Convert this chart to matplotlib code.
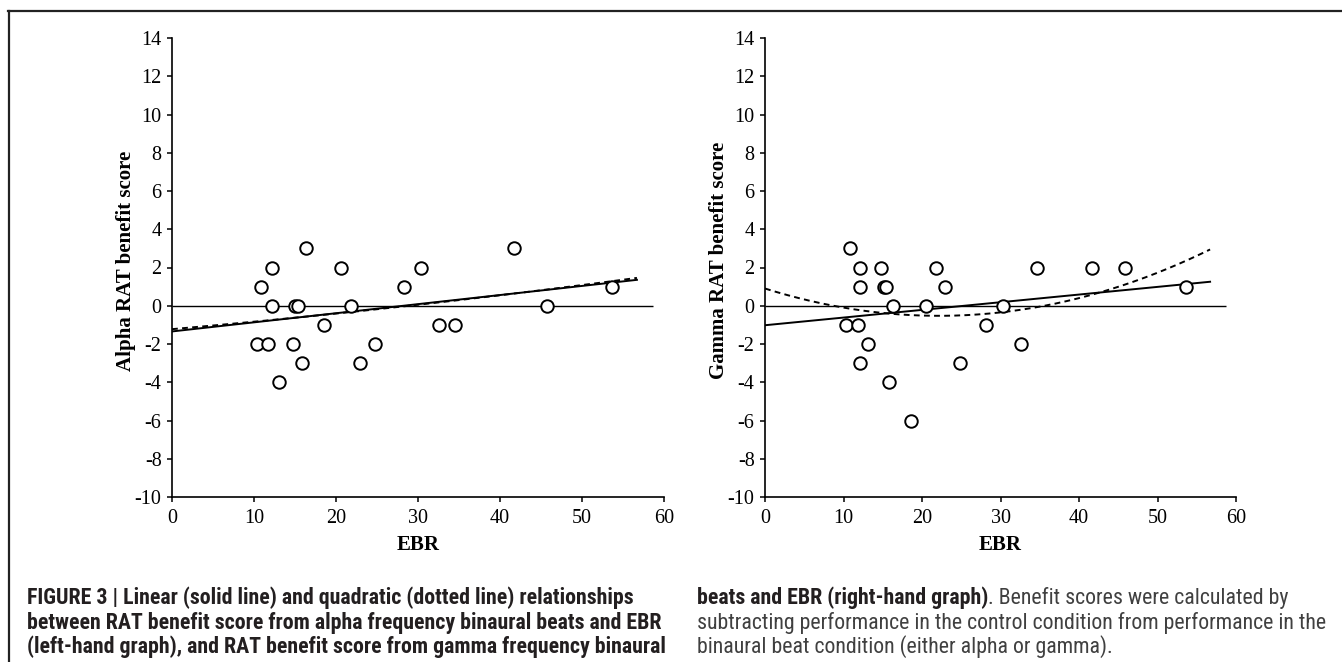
import numpy as np
import matplotlib
matplotlib.use("Agg")
import matplotlib.pyplot as plt
from matplotlib.lines import Line2D
from matplotlib.text import Annotation

plt.rcParams['axes.unicode_minus'] = False

# ---------------- data ----------------
alpha_ebr = [16.3, 41.7, 12.2, 20.55, 30.4, 10.87, 28.25, 53.6, 12.17, 15.06, 15.34,
             21.8, 45.75, 18.56, 32.6, 34.55, 10.34, 11.76, 14.8, 24.8, 15.8, 22.9, 13.1]
alpha_benefit = [3, 3, 2, 2, 2, 1, 1, 1, 0, 0, 0,
                 0, 0, -1, -1, -1, -2, -2, -2, -2, -3, -3, -4]

gamma_ebr = [10.8, 12.04, 14.77, 21.8, 34.6, 41.7, 45.8, 12.04, 15.1, 15.36, 22.9, 53.66,
             16.3, 20.55, 30.3, 10.3, 11.8, 28.2, 13.1, 32.6, 12.1, 24.8, 15.8, 18.55]
gamma_benefit = [3, 2, 2, 2, 2, 2, 2, 1, 1, 1, 1, 1,
                 0, 0, 0, -1, -1, -1, -2, -2, -3, -3, -4, -6]

x_ticks = [0, 10, 20, 30, 40, 50, 60]
y_ticks = [-10, -8, -6, -4, -2, 0, 2, 4, 6, 8, 10, 12, 14]
trend_range = (0, 56.7)      # extent of the Excel-style trendlines
zero_line_end = 58.7

panels = [
    ("Alpha RAT benefit score", alpha_ebr, alpha_benefit),
    ("Gamma RAT benefit score", gamma_ebr, gamma_benefit),
]

# ---------------- figure ----------------
W, H = 1342, 662
fig = plt.figure(figsize=(W / 100, H / 100), dpi=100)
fig.patch.set_facecolor("white")

def fx(px):
    return px / W

def fy(py):
    return 1 - py / H

axes_px = [(172, 664), (765, 1236)]
top_px, bot_px = 38, 497
serif = "Liberation Serif"

for (ylabel, xs, ys), (l, r) in zip(panels, axes_px):
    ax = fig.add_axes([fx(l), fy(bot_px), fx(r - l), (bot_px - top_px) / H])
    ax.set_xlim(0, 60)
    ax.set_ylim(-10, 14)
    for s in ("top", "right"):
        ax.spines[s].set_visible(False)
    for s in ("left", "bottom"):
        ax.spines[s].set_linewidth(1.2)
    ax.set_xticks(x_ticks)
    ax.set_yticks(y_ticks)
    ax.tick_params(direction="out", length=3.5, width=1.1, labelsize=14.5)
    ax.tick_params(axis="x", pad=5)
    ax.tick_params(axis="y", pad=4)
    for lab in ax.get_xticklabels() + ax.get_yticklabels():
        lab.set_fontfamily(serif)
    ax.set_xlabel("EBR", fontfamily=serif, fontweight="bold", fontsize=15, labelpad=5)
    ax.set_ylabel(ylabel, fontfamily=serif, fontweight="bold", fontsize=15)
    ax.yaxis.set_label_coords(-36.0 / (r - l), 0.515)

    xa = np.asarray(xs, float)
    ya = np.asarray(ys, float)
    xx = np.linspace(trend_range[0], trend_range[1], 200)
    lin = np.polyfit(xa, ya, 1)
    quad = np.polyfit(xa, ya, 2)
    ax.hlines(0, 0, zero_line_end, colors="black", linewidth=1.0, zorder=2)
    ax.plot(xx, np.polyval(lin, xx), color="black", linewidth=1.4, zorder=3)
    ax.plot(xx, np.polyval(quad, xx), color="black", linewidth=1.4,
            linestyle=(0, (3, 2.2)), zorder=3)
    ax.plot(xa, ya, linestyle="none", marker="o", markersize=9,
            markerfacecolor="white", markeredgecolor="black",
            markeredgewidth=1.4, zorder=4, clip_on=False)

# frame lines (top and left)
fig.add_artist(Line2D([fx(8), 1], [fy(11), fy(11)], color="#222222", linewidth=1.6))
fig.add_artist(Line2D([fx(9), fx(9)], [fy(11), 0], color="#222222", linewidth=1.6))

# ---------------- caption ----------------
cap_font = ["Roboto Condensed", "Liberation Sans Narrow", "Liberation Sans"]
bold_col = "#231f20"
reg_col = "#404040"
base = [604, 629, 653]

left_lines = [
    "FIGURE 3 | Linear (solid line) and quadratic (dotted line) relationships",
    "between RAT benefit score from alpha frequency binaural beats and EBR",
    "(left-hand graph), and RAT benefit score from gamma frequency binaural",
]

# choose the caption size so that the longest left line fills its column
renderer = fig.canvas.get_renderer()
probe = fig.text(0, 0, left_lines[1], fontfamily=cap_font, fontweight="bold", fontsize=14)
w14 = probe.get_window_extent(renderer).width
probe.remove()
cap_size = 14 * (666 - 27) / w14

for t, b in zip(left_lines, base):
    fig.text(fx(27), fy(b), t, fontfamily=cap_font, fontweight="bold",
             fontsize=cap_size, color=bold_col, va="baseline", ha="left")

t1 = fig.text(fx(697), fy(base[0]), "beats and EBR (right-hand graph)",
              fontfamily=cap_font, fontweight="bold", fontsize=cap_size,
              color=bold_col, va="baseline", ha="left")
fig.add_artist(Annotation(". Benefit scores were calculated by", xy=(1, 0),
                          xycoords=t1, va="bottom", ha="left",
                          fontfamily=cap_font, fontsize=cap_size, color=reg_col))
fig.text(fx(697), fy(base[1]),
         "subtracting performance in the control condition from performance in the",
         fontfamily=cap_font, fontsize=cap_size, color=reg_col, va="baseline", ha="left")
fig.text(fx(697), fy(base[2]), "binaural beat condition (either alpha or gamma).",
         fontfamily=cap_font, fontsize=cap_size, color=reg_col, va="baseline", ha="left")

fig.savefig("out.png", dpi=100, facecolor="white")
